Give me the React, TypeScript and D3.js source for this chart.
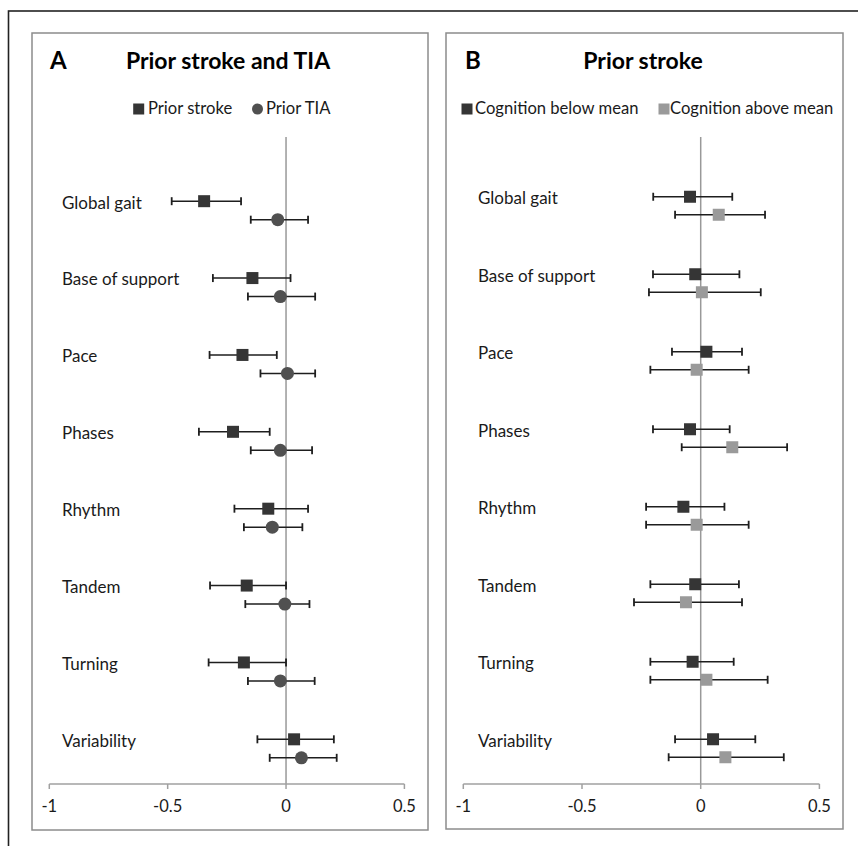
import { useEffect, useRef } from "react";
import * as d3 from "d3";

const categories = [
  "Global gait",
  "Base of support",
  "Pace",
  "Phases",
  "Rhythm",
  "Tandem",
  "Turning",
  "Variability",
];
const xTicks = [-1, -0.5, 0, 0.5];

// Panel A: prior stroke and prior TIA
const strokeEst = [-0.346, -0.142, -0.184, -0.224, -0.075, -0.166, -0.178, 0.034];
const strokeLo = [-0.483, -0.309, -0.323, -0.368, -0.218, -0.321, -0.327, -0.121];
const strokeHi = [-0.19, 0.019, -0.039, -0.069, 0.093, 0, 0, 0.202];
const tiaEst = [-0.035, -0.024, 0.006, -0.024, -0.058, -0.005, -0.024, 0.065];
const tiaLo = [-0.149, -0.161, -0.108, -0.149, -0.178, -0.172, -0.161, -0.069];
const tiaHi = [0.093, 0.123, 0.123, 0.11, 0.069, 0.099, 0.121, 0.214];

// Panel B: prior stroke split by cognition
const belowEst = [-0.045, -0.023, 0.024, -0.045, -0.073, -0.023, -0.034, 0.052];
const belowLo = [-0.2, -0.201, -0.121, -0.201, -0.23, -0.212, -0.212, -0.108];
const belowHi = [0.133, 0.163, 0.174, 0.122, 0.1, 0.161, 0.139, 0.23];
const aboveEst = [0.076, 0.005, -0.017, 0.133, -0.017, -0.062, 0.024, 0.104];
const aboveLo = [-0.108, -0.218, -0.212, -0.08, -0.23, -0.281, -0.212, -0.135];
const aboveHi = [0.271, 0.253, 0.202, 0.364, 0.202, 0.174, 0.282, 0.35];

const FONT = "Lato, 'Open Sans', sans-serif";

const App = () => {
  const svgRef = useRef<SVGSVGElement>(null);

  useEffect(() => {
    const svg = d3.select(svgRef.current);
    svg.selectAll("*").remove();

    // outer frame
    svg.append("rect")
      .attr("x", 8.5).attr("y", 11)
      .attr("width", 900).attr("height", 900)
      .attr("fill", "none").attr("stroke", "#222").attr("stroke-width", 1.6);

    const panels = [
      {
        letter: "A",
        title: "Prior stroke and TIA",
        box: [32, 33, 396, 797],
        xRange: [49.3, 404.4],
        yRange: [172, 787],
        off: 9.25,
        labelX: 62,
        letterX: 50,
        titleX: 228,
        series: [
          { name: "Prior stroke", est: strokeEst, lo: strokeLo, hi: strokeHi, shape: "square", color: "#353535" },
          { name: "Prior TIA", est: tiaEst, lo: tiaLo, hi: tiaHi, shape: "circle", color: "#505050" },
        ],
        legend: [
          { sx: 138.7, tx: 148 },
          { sx: 257.5, tx: 266 },
        ],
      },
      {
        letter: "B",
        title: "Prior stroke",
        box: [446, 33, 397, 796],
        xRange: [463.3, 819.4],
        yRange: [167, 787],
        off: 9,
        labelX: 478,
        letterX: 465,
        titleX: 643,
        series: [
          { name: "Cognition below mean", est: belowEst, lo: belowLo, hi: belowHi, shape: "square", color: "#353535" },
          { name: "Cognition above mean", est: aboveEst, lo: aboveLo, hi: aboveHi, shape: "square", color: "#9a9a9a" },
        ],
        legend: [
          { sx: 467, tx: 475 },
          { sx: 664, tx: 670 },
        ],
      },
    ];

    const axisY = 784;
    const zeroTop = 137;

    panels.forEach((p) => {
      const g = svg.append("g");
      const [bx, by, bw, bh] = p.box;

      g.append("rect")
        .attr("x", bx).attr("y", by)
        .attr("width", bw).attr("height", bh)
        .attr("fill", "#fff").attr("stroke", "#8c8c8c").attr("stroke-width", 1.5);

      const x = d3.scaleLinear().domain([-1, 0.5]).range(p.xRange);
      const y = d3.scaleBand().domain(categories).range(p.yRange);
      const yc = (c: string) => (y(c) as number) + y.bandwidth() / 2;

      // letter and title
      g.append("text")
        .attr("x", p.letterX).attr("y", 63)
        .attr("dominant-baseline", "middle")
        .attr("font-family", FONT).attr("font-weight", 700).attr("font-size", 24)
        .attr("fill", "#000")
        .text(p.letter);
      g.append("text")
        .attr("x", p.titleX).attr("y", 63)
        .attr("text-anchor", "middle").attr("dominant-baseline", "middle")
        .attr("font-family", FONT).attr("font-weight", 700).attr("font-size", 23)
        .attr("fill", "#000")
        .text(p.title);

      // legend
      p.series.forEach((s, i) => {
        const l = p.legend[i];
        if (s.shape === "square") {
          g.append("rect")
            .attr("x", l.sx - 5.5).attr("y", 109 - 5.5)
            .attr("width", 11).attr("height", 11)
            .attr("fill", s.color);
        } else {
          g.append("circle")
            .attr("cx", l.sx).attr("cy", 109).attr("r", 5.5)
            .attr("fill", s.color);
        }
        g.append("text")
          .attr("x", l.tx).attr("y", 110)
          .attr("dominant-baseline", "middle")
          .attr("font-family", FONT).attr("font-size", 16.6)
          .attr("fill", "#1a1a1a")
          .text(s.name);
      });

      // zero reference line
      g.append("line")
        .attr("x1", x(0)).attr("x2", x(0))
        .attr("y1", zeroTop).attr("y2", axisY)
        .attr("stroke", "#999").attr("stroke-width", 1.5);

      // x axis
      g.append("line")
        .attr("x1", x(-1)).attr("x2", x(0.5))
        .attr("y1", axisY).attr("y2", axisY)
        .attr("stroke", "#a0a0a0").attr("stroke-width", 1.5);
      xTicks.forEach((t) => {
        g.append("line")
          .attr("x1", x(t)).attr("x2", x(t))
          .attr("y1", axisY).attr("y2", axisY + 5)
          .attr("stroke", "#a0a0a0").attr("stroke-width", 1.5);
        g.append("text")
          .attr("x", x(t)).attr("y", 808)
          .attr("text-anchor", "middle").attr("dominant-baseline", "middle")
          .attr("font-family", FONT).attr("font-size", 16.5)
          .attr("fill", "#1a1a1a")
          .text(String(t));
      });

      // category labels
      categories.forEach((c) => {
        g.append("text")
          .attr("x", p.labelX).attr("y", yc(c) - p.off + 3)
          .attr("dominant-baseline", "middle")
          .attr("font-family", FONT).attr("font-size", 17)
          .attr("fill", "#1a1a1a")
          .text(c);
      });

      // error bars and markers
      p.series.forEach((s, si) => {
        const dy = si === 0 ? -p.off : p.off;
        categories.forEach((c, i) => {
          const cy = yc(c) + dy;
          g.append("line")
            .attr("x1", x(s.lo[i])).attr("x2", x(s.hi[i]))
            .attr("y1", cy).attr("y2", cy)
            .attr("stroke", "#1e1e1e").attr("stroke-width", 1.6);
          [s.lo[i], s.hi[i]].forEach((v) => {
            g.append("line")
              .attr("x1", x(v)).attr("x2", x(v))
              .attr("y1", cy - 4).attr("y2", cy + 4)
              .attr("stroke", "#1e1e1e").attr("stroke-width", 1.8);
          });
          if (s.shape === "square") {
            g.append("rect")
              .attr("x", x(s.est[i]) - 6).attr("y", cy - 6)
              .attr("width", 12).attr("height", 12)
              .attr("fill", s.color);
          } else {
            g.append("circle")
              .attr("cx", x(s.est[i])).attr("cy", cy).attr("r", 6.5)
              .attr("fill", s.color);
          }
        });
      });
    });
  }, []);

  return (
    <svg
      ref={svgRef}
      width={858}
      height={846}
      style={{ position: "absolute", left: 0, top: 0, background: "#fff" }}
    />
  );
};

export default App;
